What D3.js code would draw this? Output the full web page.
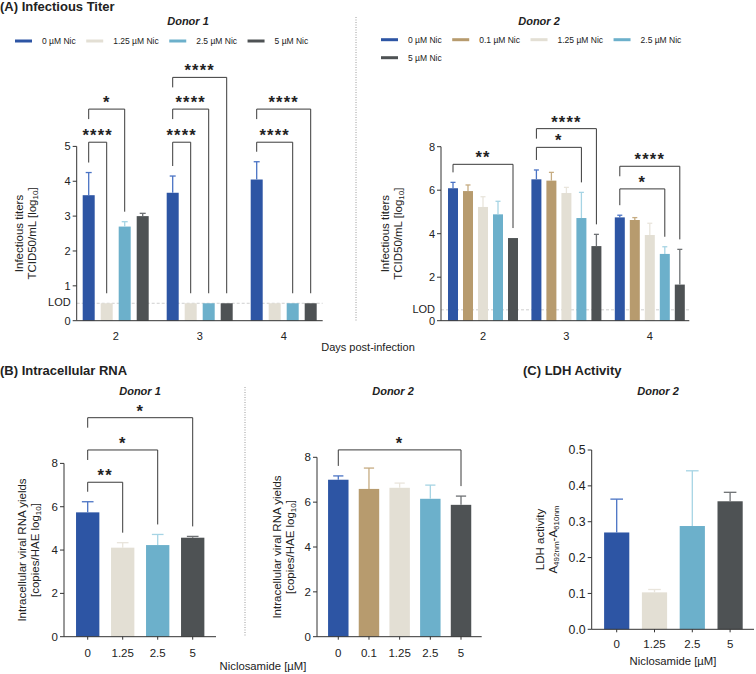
<!DOCTYPE html>
<html><head><meta charset="utf-8">
<script src="https://cdn.jsdelivr.net/npm/d3@7"></script>
<style>body{margin:0;background:#fff} text{font-family:"Liberation Sans",Arial,sans-serif;fill:#222}</style>
</head><body><svg id="c" width="756" height="674"></svg>
<script>
// ---------------- DATA ----------------
const days = ["2","3","4"];
const dosesD1 = ["0 µM Nic","1.25 µM Nic","2.5 µM Nic","5 µM Nic"];
const dosesD2 = ["0 µM Nic","0.1 µM Nic","1.25 µM Nic","2.5 µM Nic","5 µM Nic"];
const titerD1 = [[3.6,0.5,2.7,3.0],[3.67,0.5,0.5,0.5],[4.05,0.5,0.5,0.5]];
const titerD1Err = [[0.65,0,0.14,0.08],[0.48,0,0,0],[0.51,0,0,0]];
const titerD2 = [[6.09,5.96,5.23,4.89,3.80],[6.50,6.44,5.87,4.72,3.43],[4.75,4.63,3.94,3.07,1.66]];
const titerD2Err = [[0.27,0.28,0.47,0.60,0],[0.43,0.38,0.26,1.18,0.54],[0.10,0.11,0.54,0.33,1.62]];
const titerD1Ticks = [0,1,2,3,4,5];
const titerD2Ticks = [0,2,4,6,8];
const lod = 0.5;
const rnaDosesD1 = ["0","1.25","2.5","5"];
const rnaD1 = [5.74,4.11,4.23,4.57];
const rnaD1Err = [0.49,0.23,0.49,0.06];
const rnaDosesD2 = ["0","0.1","1.25","2.5","5"];
const rnaD2 = [7.0,6.59,6.64,6.15,5.88];
const rnaD2Err = [0.17,0.93,0.21,0.61,0.39];
const rnaTicks = [0,2,4,6,8];
const ldhDoses = ["0","1.25","2.5","5"];
const ldh = [0.270,0.103,0.288,0.357];
const ldhErr = [0.093,0.008,0.154,0.025];
const ldhTicks = [0,0.1,0.2,0.3,0.4,0.5];
// significance: [group, barA, barB, level (data units), label]
const sigTiterD1 = [[0,0,1,5.12,"****"],[0,0,2,6.07,"*"],[1,0,1,5.12,"****"],[1,0,2,6.07,"****"],[1,0,3,6.98,"****"],[2,0,2,5.12,"****"],[2,0,3,6.07,"****"]];
const sigTiterD2 = [[0,0,4,7.19,"**"],[1,0,3,7.97,"*"],[1,0,4,8.83,"****"],[2,0,3,6.06,"*"],[2,0,4,7.10,"****"]];
const sigRnaD1 = [[0,0,1,7.13,"**"],[0,0,2,8.62,"*"],[0,0,3,10.11,"*"]];
const sigRnaD2 = [[0,0,4,8.33,"*"]];

// ---------------- STYLE ----------------
const C = {blue:"#2D55A4", tan:"#B79B6E", beige:"#E3DFD4", lblue:"#6CB0CB", dark:"#4E5254"};
const E = {blue:"#4A73C4", tan:"#C6AC82", beige:"#E9E5DC", lblue:"#A6D4E4", dark:"#6E7174"};
const colD1 = ["blue","beige","lblue","dark"];
const colD2 = ["blue","tan","beige","lblue","dark"];

const svg = d3.select("#c");

function txt(x,y,s,opt={}){
  return svg.append("text").attr("x",x).attr("y",y)
    .attr("font-size",opt.size||11).attr("text-anchor",opt.anchor||"start")
    .attr("font-weight",opt.weight||"normal").attr("font-style",opt.style||"normal")
    .attr("dy",opt.dy||"0.35em").text(s);
}

function chart(o){
  const g = svg.append("g");
  const y = d3.scaleLinear().domain(o.yDomain).range(o.yRange);
  const x0 = d3.scaleBand().domain(d3.range(o.values.length)).range(o.xRange);
  const inset = o.inset||0;
  const x1 = d3.scaleBand().domain(d3.range(o.values[0].length))
     .range([inset, x0.bandwidth()-inset]).paddingInner(1/3).paddingOuter(1/6);
  const cx = (gi,si)=> x0(gi)+x1(si)+x1.bandwidth()/2;
  const top = (gi,si)=> y(o.values[gi][si] + (o.errs[gi][si]||0));
  const y0 = y(0);
  const ts = o.tickSize||11;
  if(o.lod!=null){
    g.append("line").attr("x1",o.axisX).attr("x2",o.axisXEnd).attr("y1",y(o.lod)).attr("y2",y(o.lod))
      .attr("stroke","#cfcfcf").attr("stroke-width",1).attr("stroke-dasharray","3,2");
  }
  o.values.forEach((row,gi)=>{
    row.forEach((v,si)=>{
      const col = o.colors[si];
      g.append("rect").attr("x",x0(gi)+x1(si)).attr("width",x1.bandwidth())
        .attr("y",y(v)).attr("height",y0-y(v)).attr("fill",C[col]);
      const e = o.errs[gi][si];
      if(e>0){
        const xc = cx(gi,si), cw = x1.bandwidth()*0.5;
        g.append("line").attr("x1",xc).attr("x2",xc).attr("y1",y(v)).attr("y2",y(v+e))
          .attr("stroke",E[col]).attr("stroke-width",1.3);
        g.append("line").attr("x1",xc-cw/2).attr("x2",xc+cw/2).attr("y1",y(v+e)).attr("y2",y(v+e))
          .attr("stroke",E[col]).attr("stroke-width",1.3);
      }
    });
  });
  const ax = g.append("g").attr("stroke","#333").attr("stroke-width",1);
  ax.append("line").attr("x1",o.axisX).attr("x2",o.axisX).attr("y1",y0).attr("y2",y(o.ticks[o.ticks.length-1]));
  ax.append("line").attr("x1",o.axisX).attr("x2",o.axisXEnd).attr("y1",y0).attr("y2",y0);
  o.ticks.forEach(t=>{
    ax.append("line").attr("x1",o.axisX-4).attr("x2",o.axisX).attr("y1",y(t)).attr("y2",y(t));
    g.append("text").attr("x",o.axisX-6).attr("y",y(t)).attr("dy","0.35em").attr("text-anchor","end")
      .attr("font-size",o.yTickSize||ts).text(o.fmt?o.fmt(t):t);
  });
  if(o.lod!=null){
    g.append("text").attr("x",o.axisX-6).attr("y",y(o.lod)).attr("dy","0.25em").attr("text-anchor","end")
      .attr("font-size",ts).text("LOD");
  }
  if(o.groupLabels){
    o.groupLabels.forEach((l,gi)=>{
      g.append("text").attr("x",x0(gi)+x0.bandwidth()/2).attr("y",y0+o.xLabOff).attr("dy","0.35em")
        .attr("text-anchor","middle").attr("font-size",ts).text(l);
    });
  } else {
    o.barLabels.forEach((l,si)=>{
      ax.append("line").attr("x1",cx(0,si)).attr("x2",cx(0,si)).attr("y1",y0).attr("y2",y0+3);
      g.append("text").attr("x",cx(0,si)).attr("y",y0+o.xLabOff).attr("dy","0.35em")
        .attr("text-anchor","middle").attr("font-size",ts).text(l);
    });
  }
  (o.sig||[]).forEach(s=>{
    const [gi,a,b,lvl,lab] = s;
    const yy = y(lvl), xa = cx(gi,a), xb = cx(gi,b);
    const lowerAt = (bar)=> o.sig.some(t=> t!==s && t[0]===gi && (t[1]===bar||t[2]===bar) && t[3]<lvl);
    const la = lowerAt(a) ? yy+10 : top(gi,a)-10;
    const lb = lowerAt(b) ? yy+10 : top(gi,b)-10;
    g.append("path").attr("d",`M${xa},${la}V${yy}H${xb}V${lb}`)
      .attr("fill","none").attr("stroke","#3a3a3a").attr("stroke-width",1);
    g.append("text").attr("x",(xa+xb)/2).attr("y",yy-1).attr("text-anchor","middle")
      .attr("font-size",16.5).attr("font-weight","bold").attr("letter-spacing","1.2px").text(lab);
  });
  const yt = g.append("text").attr("transform",`translate(${o.yTitleX},${o.yTitleY}) rotate(-90)`)
     .attr("text-anchor","middle").attr("font-size",11.5);
  o.yTitle.forEach((line,i)=>{
    const t = yt.append("tspan").attr("x",0).attr("y",i*o.yTitleGap).attr("dy","0.35em");
    line.forEach(part=>{
      if(part.sub) t.append("tspan").attr("font-size",8).attr("baseline-shift","-25%").text(part.t);
      else t.append("tspan").text(part.t);
    });
  });
  return {y,cx};
}

function legend(items, colors, x, y, rowBreak, rowGap){
  let cxp = x, cy = y;
  items.forEach((it,i)=>{
    if(rowBreak && rowBreak.includes(i)){ cxp = x; cy += rowGap; }
    svg.append("line").attr("x1",cxp).attr("x2",cxp+17).attr("y1",cy).attr("y2",cy)
      .attr("stroke",C[colors[i]]).attr("stroke-width",3);
    const t = svg.append("text").attr("x",cxp+27).attr("y",cy).attr("dy","0.35em")
      .attr("font-size",8.5).attr("fill","#333").text(it);
    cxp = cxp + 27 + t.node().getComputedTextLength() + 10.5;
  });
}

// ---------------- TITLES ----------------
txt(0,6.5,"(A) Infectious Titer",{size:13,weight:"bold"});
txt(0,370,"(B) Intracellular RNA",{size:13,weight:"bold"});
txt(523,370,"(C) LDH Activity",{size:13,weight:"bold"});
txt(188,21,"Donor 1",{size:11,weight:"bold",style:"italic",anchor:"middle"});
txt(539,21,"Donor 2",{size:11,weight:"bold",style:"italic",anchor:"middle"});
txt(140,391.5,"Donor 1",{size:11,weight:"bold",style:"italic",anchor:"middle"});
txt(393,391,"Donor 2",{size:11,weight:"bold",style:"italic",anchor:"middle"});
txt(658,391.5,"Donor 2",{size:11,weight:"bold",style:"italic",anchor:"middle"});
txt(368,347,"Days post-infection",{size:11,anchor:"middle"});
txt(263,666.5,"Niclosamide [µM]",{size:11.3,anchor:"middle"});
txt(673,661.5,"Niclosamide [µM]",{size:11.3,anchor:"middle"});

svg.append("line").attr("x1",356).attr("x2",356).attr("y1",17).attr("y2",322)
  .attr("stroke","#9a9a9a").attr("stroke-dasharray","1,1.5");
svg.append("line").attr("x1",245).attr("x2",245).attr("y1",387).attr("y2",637)
  .attr("stroke","#9a9a9a").attr("stroke-dasharray","1,1.5");

legend(dosesD1, colD1, 15, 41, null, 0);
legend(dosesD2, colD2, 381, 39.7, [4], 18);

// ---------------- CHARTS ----------------
const titerTitle = [[{t:"Infectious titers"}],[{t:"TCID50/mL [log"},{t:"10",sub:true},{t:"]"}]];
chart({values:titerD1, errs:titerD1Err, colors:colD1, xRange:[73.7,325.7], inset:6,
  yDomain:[0,5], yRange:[320.7,146.4], axisX:76.7, axisXEnd:322.7, ticks:titerD1Ticks,
  lod:lod, groupLabels:days, xLabOff:15, sig:sigTiterD1,
  yTitle:titerTitle, yTitleX:18.5, yTitleY:233.5, yTitleGap:13.3});
chart({values:titerD2, errs:titerD2Err, colors:colD2, xRange:[441.3,691.5], inset:4.2,
  yDomain:[0,8], yRange:[320.7,146.7], axisX:441, axisXEnd:689.3, ticks:titerD2Ticks,
  lod:lod, groupLabels:days, xLabOff:15, sig:sigTiterD2,
  yTitle:titerTitle, yTitleX:385, yTitleY:233.7, yTitleGap:13.3});

const rnaTitle = [[{t:"Intracellular viral RNA yields"}],[{t:"[copies/HAE log"},{t:"10",sub:true},{t:"]"}]];
chart({values:[rnaD1], errs:[rnaD1Err], colors:colD1, xRange:[70.2,210.2],
  yDomain:[0,8], yRange:[636.7,463.4], axisX:64, axisXEnd:216, ticks:rnaTicks, tickSize:11.5,
  barLabels:rnaDosesD1, xLabOff:16, sig:sigRnaD1,
  yTitle:rnaTitle, yTitleX:22, yTitleY:550, yTitleGap:12.5});
chart({values:[rnaD2], errs:[rnaD2Err], colors:colD2, xRange:[322.95,476.35],
  yDomain:[0,8], yRange:[636.7,457.3], axisX:317, axisXEnd:481.7, ticks:rnaTicks, tickSize:11.5,
  barLabels:rnaDosesD2, xLabOff:16, sig:sigRnaD2,
  yTitle:rnaTitle, yTitleX:277, yTitleY:547, yTitleGap:12.5});

const ldhTitle = [[{t:"LDH activity"}],[{t:"A"},{t:"492nm",sub:true},{t:"-A"},{t:"610nm",sub:true}]];
chart({values:[ldh], errs:[ldhErr], colors:colD1, xRange:[597.8,749],
  yDomain:[0,0.5], yRange:[629.3,450], axisX:591.7, axisXEnd:754, ticks:ldhTicks, fmt:d3.format(".1f"),
  tickSize:11.5, yTickSize:12.3,
  barLabels:ldhDoses, xLabOff:15, sig:[],
  yTitle:ldhTitle, yTitleX:540, yTitleY:539.5, yTitleGap:13.3});
</script></body></html>
